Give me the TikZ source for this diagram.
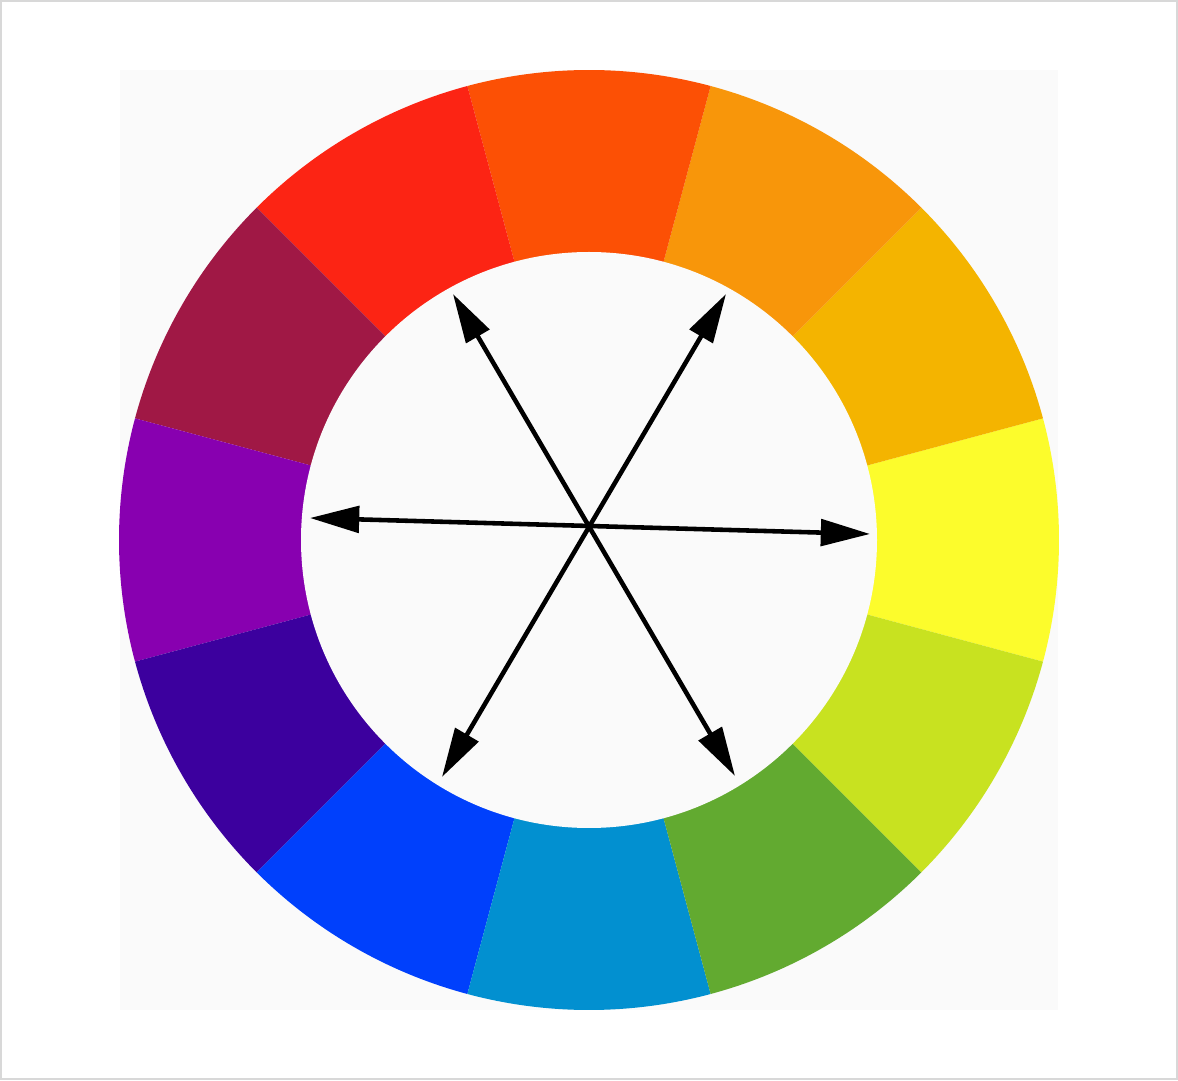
\documentclass[tikz,border=0pt]{standalone}
\usetikzlibrary{arrows.meta}
\definecolor{bordergray}{HTML}{D8D8D8}
\definecolor{panel}{HTML}{FAFAFA}
\definecolor{c0}{HTML}{FCFC2C}
\definecolor{c30}{HTML}{F4B400}
\definecolor{c60}{HTML}{F8960A}
\definecolor{c90}{HTML}{FC5005}
\definecolor{c120}{HTML}{FC2414}
\definecolor{c150}{HTML}{A01845}
\definecolor{c180}{HTML}{8800B0}
\definecolor{c210}{HTML}{3C009E}
\definecolor{c240}{HTML}{0040FC}
\definecolor{c270}{HTML}{0290D0}
\definecolor{c300}{HTML}{62AA30}
\definecolor{c330}{HTML}{C8E220}
\tikzset{
  dirarrow/.style={line width=2.6pt, black, {Triangle[length=28pt,width=15pt]}-{Triangle[length=28pt,width=15pt]}},
}
\begin{document}
\begin{tikzpicture}[x=0.02cm,y=0.02cm]
\useasboundingbox (0,0) rectangle (1178,1080);
\fill[white] (0,0) rectangle (1178,1080);
\draw[bordergray, line width=1.2pt] (1,1) rectangle (1177,1079);
\fill[panel] (120,70) rectangle (1058,1010);
\coordinate (c) at (589,540);
\foreach \a in {0,30,...,330}{
  \fill[c\a] (c) -- ++(\a-15:470) arc[start angle=\a-15, end angle=\a+15, radius=470] -- cycle;
}
\fill[panel] (c) circle[radius=288];
\coordinate (ul) at (453,786);
\coordinate (lr) at (735,304);
\coordinate (ur) at (726,786);
\coordinate (ll) at (442,303);
\coordinate (lt) at (310,562);
\coordinate (rt) at (870,546);
\draw[dirarrow] (ul) -- (lr);
\draw[dirarrow] (ur) -- (ll);
\draw[dirarrow] (lt) -- (rt);
\end{tikzpicture}
\end{document}
